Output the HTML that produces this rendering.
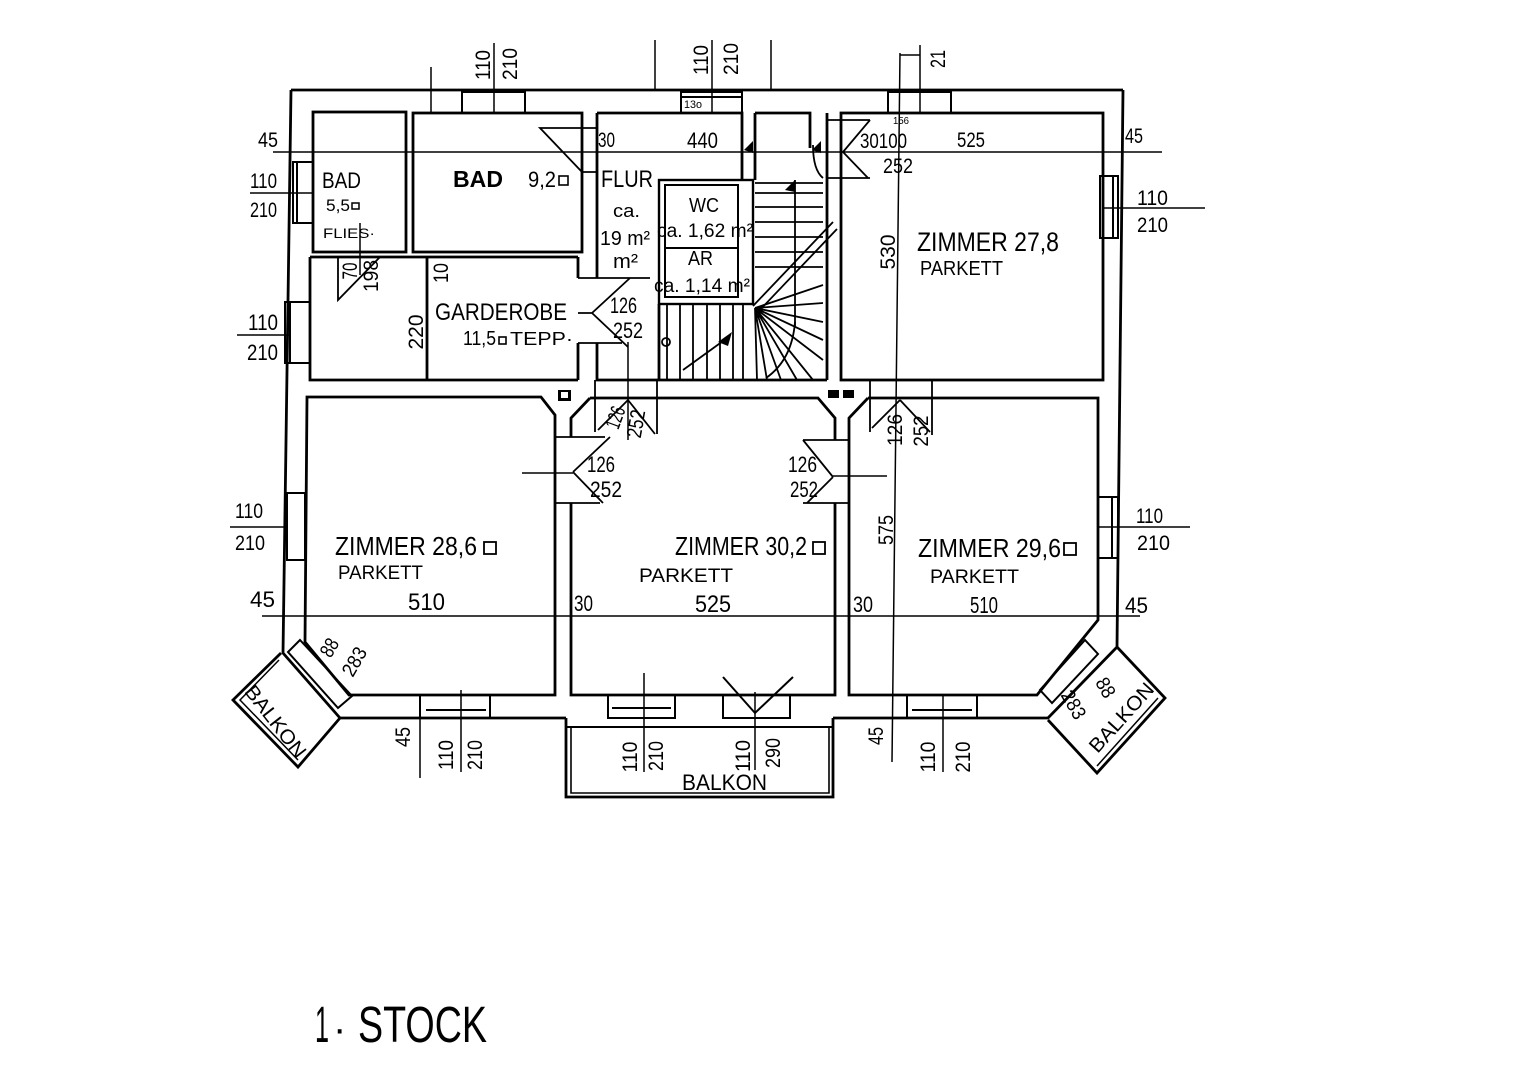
<!DOCTYPE html>
<html><head><meta charset="utf-8">
<style>
html,body{margin:0;padding:0;background:#fff;}
svg{display:block}
text{font-family:"Liberation Sans Narrow","Liberation Sans",sans-serif;fill:#000}
.a{font-family:"Liberation Sans",sans-serif}
</style></head><body>
<svg width="1527" height="1080" viewBox="0 0 1527 1080" xmlns="http://www.w3.org/2000/svg">
<rect width="1527" height="1080" fill="#fff"/>

<!-- WALLS -->
<g fill="none" stroke="#000" stroke-width="2.8" stroke-linejoin="miter">
  <!-- outer -->
  <path d="M291,90 L1123,90"/>
  <path d="M291,90 L283,653 L340,718 L566,718"/>
  <path d="M833,718 L1048,718 L1117,647 L1123,90"/>
  <!-- middle balcony -->
  <path d="M566,718 L566,797 L833,797 L833,718"/>
  <path d="M571,727 L571,793 L829,793 L829,727" stroke-width="1.6"/>
  <path d="M566,727 L833,727" stroke-width="2"/>
  <!-- left balcony -->
  <path d="M281,653 L233,700 L298,767 L340,718"/>
  <path d="M279,660 L240,700 L298,760" stroke-width="1.5"/>
  <!-- right balcony -->
  <path d="M1117,647 L1165,698 L1097,773 L1048,720"/>
  <path d="M1158,698 L1097,766" stroke-width="1.5"/>

  <!-- top rooms -->
  <rect x="313" y="112" width="93" height="140"/>
  <rect x="413" y="113" width="169" height="139"/>
  <path d="M310,257 L578,257 M310,257 L310,380 L578,380 M427,257 L427,380"/>
  <path d="M578,257 L578,278 M578,343 L578,380"/>
  <path d="M597,113 L597,278 M597,343 L597,380 L827,380"/>
  <path d="M597,113 L742,113 L742,180 M755,113 L810,113 L810,148"/>
  <path d="M827,113 L827,380"/>
  <path d="M755,113 L755,180"/>
  <!-- WC / AR -->
  <rect x="659" y="180" width="94" height="124" stroke-width="2.4"/>
  <rect x="665" y="185" width="73" height="112" stroke-width="2"/>
  <path d="M665,248 L738,248" stroke-width="2"/>
  <path d="M659,304 L659,380"/>
  <!-- zimmer 27.8 -->
  <rect x="841" y="113" width="262" height="267"/>

  <!-- bottom rooms -->
  <path d="M307,397 L541,397 L555,415 L555,695 L349,695 L305,642 L307,397 Z"/>
  <path d="M590,398 L818,398 L835,418 L835,440 M835,503 L835,695 L571,695 L571,503 M571,437 L571,418 L590,398"/>
  <path d="M868,398 L1098,398 L1098,620 L1037,695 L849,695 L849,418 L868,398"/>
</g>

<!-- STAIRS & DETAILS -->
<g fill="none" stroke="#000" stroke-width="1.8">
  <path d="M755,183 L823,183 M755,193 L823,193 M755,207 L823,207 M755,222 L823,222 M755,237 L823,237 M755,252 L823,252 M755,267 L823,267"/>
  <path d="M795,180 L795,327"/>
  <path d="M755,308 L823,285 M755,308 L823,303 M755,308 L823,322 M755,308 L823,340 M755,308 L823,360 M755,308 L813,380 M755,308 L797,380 M755,308 L781,380 M755,308 L767,380 M755,308 L757,380"/>
  <path d="M795,322 Q792,360 766,378"/>
  <path d="M753,306 L833,222 M757,313 L837,229"/>
  <path d="M667,304 L667,380 M680,304 L680,380 M693,304 L693,380 M707,304 L707,380 M720,304 L720,380 M733,304 L733,380 M743,304 L743,380"/>
  <path d="M683,370 L730,336"/>
  <circle cx="666" cy="342" r="4"/>
  <path d="M813,145 Q813,170 823,178"/>
</g>
<g fill="#000">
  <polygon points="718,342 732,332 728,346"/>
  <polygon points="744,150 753,141 753,153"/>
  <polygon points="812,150 821,141 821,153"/>
  <polygon points="785,190 795,180 795,192"/>
  <rect x="558" y="390" width="13" height="11" />
  <rect x="828" y="390" width="11" height="8" />
  <rect x="843" y="390" width="11" height="8" />
</g>
<rect x="561" y="392" width="7" height="6" fill="#fff"/>

<!-- DOOR SWINGS -->
<g fill="none" stroke="#000" stroke-width="1.8">
  <!-- bad large door -->
  <path d="M540,128 L582,128 L582,172 Z M582,128 L597,128 M582,172 L597,172"/>
  <!-- lower-left room door -->
  <path d="M338,257 L338,300 L380,257"/>
  <!-- garderobe door -->
  <path d="M578,278 L650,278 M578,343 L622,343 M592,313 L630,278 M592,313 L628,347 M578,313 L592,313"/>
  <!-- zimmer 27.8 door -->
  <path d="M827,120 L870,120 M827,178 L870,178 M843,152 L870,120 M843,152 L868,178"/>
  <!-- middle top door -->
  <path d="M595,380 L595,432 M657,380 L657,434 M628,400 L598,430 M628,400 L655,434"/>
  <!-- right top door -->
  <path d="M870,380 L870,432 M932,380 L932,435 M900,400 L872,428 M900,400 L930,432 M870,398 L932,398"/>
  <!-- middle room left door -->
  <path d="M555,437 L605,437 M555,503 L600,503 M573,472 L610,437 M573,472 L603,503"/>
  <!-- middle room right door -->
  <path d="M803,440 L849,440 M803,503 L849,503 M833,477 L803,440 M833,477 L807,503"/>
</g>

<!-- WINDOWS -->
<g fill="none" stroke="#000" stroke-width="2">
  <rect x="462" y="92" width="63" height="21"/>
  <rect x="681" y="92" width="61" height="21"/><path d="M681,97 L742,97"/>
  <rect x="888" y="92" width="63" height="21"/>
  <rect x="293" y="162" width="20" height="61"/><path d="M297,162 L297,223"/>
  <rect x="285" y="302" width="25" height="61"/><path d="M290,302 L290,363"/>
  <rect x="287" y="493" width="18" height="67"/>
  <rect x="1100" y="176" width="18" height="62"/><path d="M1113,176 L1113,238"/>
  <rect x="1098" y="497" width="20" height="61"/><path d="M1112,497 L1112,558"/>
  <rect x="420" y="695" width="70" height="23"/><path d="M426,710 L486,710"/>
  <rect x="608" y="695" width="67" height="23"/><path d="M612,708 L671,708"/>
  <rect x="723" y="695" width="67" height="23"/>
  <path d="M723,677 L755,713 L793,677"/>
  <rect x="907" y="695" width="70" height="23"/><path d="M912,710 L972,710"/>
  <polygon points="300,640 352,696 338,708 288,652"/>
  <polygon points="1085,640 1098,654 1052,703 1040,690"/>
</g>

<!-- DIMENSION LINES -->
<g fill="none" stroke="#000" stroke-width="1.5">
  <path d="M273,152 L1162,152"/>
  <path d="M262,616 L1140,616"/>
  <path d="M250,193 L313,193"/>
  <path d="M237,335 L290,335"/>
  <path d="M230,527 L287,527"/>
  <path d="M1103,208 L1205,208"/>
  <path d="M1098,527 L1190,527"/>
  <path d="M431,67 L431,113"/>
  <path d="M494,43 L494,113"/>
  <path d="M655,40 L655,90"/>
  <path d="M712,40 L712,113"/>
  <path d="M771,40 L771,90"/>
  <path d="M900,53 L892,762"/>
  <path d="M920,45 L920,113 M900,55 L920,55"/>
  <path d="M420,695 L420,778"/>
  <path d="M461,690 L461,772"/>
  <path d="M644,673 L644,772"/>
  <path d="M755,692 L755,770"/>
  <path d="M943,695 L943,772"/>
  <path d="M522,473 L573,473"/>
  <path d="M833,476 L887,476"/>
  <path d="M628,342 L628,440"/>
  <path d="M360,223 L360,275"/>
</g>

<!-- TEXT -->
<g>
  <text x="322" y="188" font-size="22" textLength="39" lengthAdjust="spacingAndGlyphs">BAD</text>
  <text x="326" y="211" font-size="17" textLength="24" lengthAdjust="spacingAndGlyphs">5,5</text>
  <rect x="352" y="203" width="7" height="6" fill="none" stroke="#000" stroke-width="1.5"/>
  <text x="323" y="238" font-size="14" textLength="52" lengthAdjust="spacingAndGlyphs">FLIES·</text>
  <text class="a" x="453" y="187" font-size="23" font-weight="bold" textLength="50" lengthAdjust="spacingAndGlyphs">BAD</text>
  <text x="528" y="187" font-size="22" textLength="28" lengthAdjust="spacingAndGlyphs">9,2</text>
  <rect x="559" y="176" width="9" height="9" fill="none" stroke="#000" stroke-width="1.6"/>
  <text x="601" y="187" font-size="24" textLength="52" lengthAdjust="spacingAndGlyphs">FLUR</text>
  <text class="a" x="613" y="217" font-size="18" textLength="27" lengthAdjust="spacingAndGlyphs">ca.</text>
  <text class="a" x="600" y="245" font-size="20" textLength="50" lengthAdjust="spacingAndGlyphs">19 m²</text>
  <text class="a" x="613" y="268" font-size="20" textLength="25" lengthAdjust="spacingAndGlyphs">m²</text>
  <text class="a" x="689" y="212" font-size="20" textLength="30" lengthAdjust="spacingAndGlyphs">WC</text>
  <text class="a" x="657" y="237" font-size="19" textLength="96" lengthAdjust="spacingAndGlyphs">ca. 1,62 m²</text>
  <text class="a" x="688" y="265" font-size="20" textLength="25" lengthAdjust="spacingAndGlyphs">AR</text>
  <text class="a" x="654" y="292" font-size="19" textLength="96" lengthAdjust="spacingAndGlyphs">ca. 1,14 m²</text>
  <text x="435" y="320" font-size="24" textLength="132" lengthAdjust="spacingAndGlyphs">GARDEROBE</text>
  <text x="463" y="345" font-size="20" textLength="33" lengthAdjust="spacingAndGlyphs">11,5</text>
  <rect x="499" y="337" width="7" height="7" fill="none" stroke="#000" stroke-width="1.6"/>
  <text x="510" y="345" font-size="18" textLength="63" lengthAdjust="spacingAndGlyphs">TEPP·</text>
  <text x="610" y="313" font-size="22" textLength="27" lengthAdjust="spacingAndGlyphs">126</text>
  <text x="613" y="338" font-size="22" textLength="30" lengthAdjust="spacingAndGlyphs">252</text>

  <text x="917" y="251" font-size="27" textLength="142" lengthAdjust="spacingAndGlyphs">ZIMMER  27,8</text>
  <text x="920" y="275" font-size="20" textLength="83" lengthAdjust="spacingAndGlyphs">PARKETT</text>

  <text x="258" y="147" font-size="21" textLength="20" lengthAdjust="spacingAndGlyphs">45</text>
  <text x="250" y="188" font-size="21" textLength="27" lengthAdjust="spacingAndGlyphs">110</text>
  <text x="250" y="217" font-size="21" textLength="27" lengthAdjust="spacingAndGlyphs">210</text>
  <text x="248" y="330" font-size="22" textLength="30" lengthAdjust="spacingAndGlyphs">110</text>
  <text x="247" y="360" font-size="22" textLength="31" lengthAdjust="spacingAndGlyphs">210</text>
  <text x="598" y="147" font-size="21" textLength="17" lengthAdjust="spacingAndGlyphs">30</text>
  <text x="687" y="148" font-size="22" textLength="31" lengthAdjust="spacingAndGlyphs">440</text>
  <text x="860" y="148" font-size="21" textLength="47" lengthAdjust="spacingAndGlyphs">30100</text>
  <text x="883" y="173" font-size="21" textLength="30" lengthAdjust="spacingAndGlyphs">252</text>
  <text x="957" y="147" font-size="21" textLength="28" lengthAdjust="spacingAndGlyphs">525</text>
  <text x="1125" y="143" font-size="21" textLength="18" lengthAdjust="spacingAndGlyphs">45</text>
  <text x="1137" y="205" font-size="21" textLength="31" lengthAdjust="spacingAndGlyphs">110</text>
  <text x="1137" y="232" font-size="21" textLength="31" lengthAdjust="spacingAndGlyphs">210</text>
  <text x="684" y="108" font-size="11" textLength="18" lengthAdjust="spacingAndGlyphs">13o</text>
  <text x="893" y="124" font-size="10" textLength="16" lengthAdjust="spacingAndGlyphs">156</text>

  <text x="235" y="518" font-size="21" textLength="28" lengthAdjust="spacingAndGlyphs">110</text>
  <text x="235" y="550" font-size="21" textLength="30" lengthAdjust="spacingAndGlyphs">210</text>
  <text x="250" y="607" font-size="22" textLength="25" lengthAdjust="spacingAndGlyphs">45</text>
  <text x="335" y="555" font-size="26" textLength="142" lengthAdjust="spacingAndGlyphs">ZIMMER  28,6</text>
  <rect x="484" y="542" width="12" height="12" fill="none" stroke="#000" stroke-width="1.8"/>
  <text x="338" y="579" font-size="19" textLength="85" lengthAdjust="spacingAndGlyphs">PARKETT</text>
  <text x="408" y="610" font-size="24" textLength="37" lengthAdjust="spacingAndGlyphs">510</text>
  <text x="574" y="611" font-size="22" textLength="19" lengthAdjust="spacingAndGlyphs">30</text>
  <text x="587" y="472" font-size="22" textLength="28" lengthAdjust="spacingAndGlyphs">126</text>
  <text x="590" y="497" font-size="22" textLength="32" lengthAdjust="spacingAndGlyphs">252</text>
  <text x="788" y="472" font-size="22" textLength="29" lengthAdjust="spacingAndGlyphs">126</text>
  <text x="790" y="497" font-size="22" textLength="28" lengthAdjust="spacingAndGlyphs">252</text>
  <text x="675" y="555" font-size="26" textLength="132" lengthAdjust="spacingAndGlyphs">ZIMMER 30,2</text>
  <rect x="813" y="542" width="12" height="12" fill="none" stroke="#000" stroke-width="1.8"/>
  <text x="639" y="582" font-size="19" textLength="94" lengthAdjust="spacingAndGlyphs">PARKETT</text>
  <text x="695" y="612" font-size="24" textLength="36" lengthAdjust="spacingAndGlyphs">525</text>
  <text x="853" y="612" font-size="22" textLength="20" lengthAdjust="spacingAndGlyphs">30</text>
  <text x="918" y="557" font-size="26" textLength="143" lengthAdjust="spacingAndGlyphs">ZIMMER  29,6</text>
  <rect x="1064" y="543" width="12" height="12" fill="none" stroke="#000" stroke-width="1.8"/>
  <text x="930" y="583" font-size="19" textLength="89" lengthAdjust="spacingAndGlyphs">PARKETT</text>
  <text x="970" y="613" font-size="23" textLength="28" lengthAdjust="spacingAndGlyphs">510</text>
  <text x="1125" y="613" font-size="22" textLength="23" lengthAdjust="spacingAndGlyphs">45</text>
  <text x="1136" y="523" font-size="21" textLength="27" lengthAdjust="spacingAndGlyphs">110</text>
  <text x="1137" y="550" font-size="21" textLength="33" lengthAdjust="spacingAndGlyphs">210</text>
  <text x="682" y="790" font-size="22" textLength="85" lengthAdjust="spacingAndGlyphs">BALKON</text>

  <!-- rotated -90 labels -->
  <g font-size="21" text-anchor="middle">
    <text transform="translate(490,65) rotate(-90)" textLength="30" lengthAdjust="spacingAndGlyphs">110</text>
    <text transform="translate(517,64) rotate(-90)" textLength="32" lengthAdjust="spacingAndGlyphs">210</text>
    <text transform="translate(708,60) rotate(-90)" textLength="30" lengthAdjust="spacingAndGlyphs">110</text>
    <text transform="translate(738,59) rotate(-90)" textLength="32" lengthAdjust="spacingAndGlyphs">210</text>
    <text transform="translate(945,59) rotate(-90)" textLength="18" lengthAdjust="spacingAndGlyphs">21</text>
    <text transform="translate(423,332) rotate(-90)" textLength="35" lengthAdjust="spacingAndGlyphs">220</text>
    <text transform="translate(448,273) rotate(-90)" textLength="20" lengthAdjust="spacingAndGlyphs">10</text>
    <text transform="translate(357,271) rotate(-90)" textLength="17" lengthAdjust="spacingAndGlyphs">70</text>
    <text transform="translate(378,276) rotate(-90)" textLength="32" lengthAdjust="spacingAndGlyphs">198</text>
    <text transform="translate(895,252) rotate(-90)" textLength="35" lengthAdjust="spacingAndGlyphs">530</text>
    <text transform="translate(893,530) rotate(-90)" textLength="30" lengthAdjust="spacingAndGlyphs">575</text>
    <text transform="translate(410,737) rotate(-90)" textLength="20" lengthAdjust="spacingAndGlyphs">45</text>
    <text transform="translate(453,755) rotate(-90)" textLength="30" lengthAdjust="spacingAndGlyphs">110</text>
    <text transform="translate(482,755) rotate(-90)" textLength="30" lengthAdjust="spacingAndGlyphs">210</text>
    <text transform="translate(637,757) rotate(-90)" textLength="31" lengthAdjust="spacingAndGlyphs">110</text>
    <text transform="translate(663,756) rotate(-90)" textLength="30" lengthAdjust="spacingAndGlyphs">210</text>
    <text transform="translate(750,756) rotate(-90)" textLength="32" lengthAdjust="spacingAndGlyphs">110</text>
    <text transform="translate(780,753) rotate(-90)" textLength="30" lengthAdjust="spacingAndGlyphs">290</text>
    <text transform="translate(883,736) rotate(-90)" textLength="18" lengthAdjust="spacingAndGlyphs">45</text>
    <text transform="translate(935,757) rotate(-90)" textLength="31" lengthAdjust="spacingAndGlyphs">110</text>
    <text transform="translate(970,757) rotate(-90)" textLength="31" lengthAdjust="spacingAndGlyphs">210</text>
    <text transform="translate(902,430) rotate(-90)" textLength="32" lengthAdjust="spacingAndGlyphs">126</text>
    <text transform="translate(928,431) rotate(-90)" textLength="31" lengthAdjust="spacingAndGlyphs">252</text>
    <text transform="translate(622,420) rotate(-70)" textLength="22" lengthAdjust="spacingAndGlyphs">126</text>
    <text transform="translate(643,425) rotate(-80)" textLength="28" lengthAdjust="spacingAndGlyphs">252</text>
  </g>
  <!-- balcony labels -->
  <g font-size="20" text-anchor="middle" dominant-baseline="central">
    <text transform="translate(275,722) rotate(52)" textLength="86" lengthAdjust="spacingAndGlyphs">BALKON</text>
    <text transform="translate(330,648) rotate(-60)" textLength="18" lengthAdjust="spacingAndGlyphs">88</text>
    <text transform="translate(355,662) rotate(-60)" textLength="30" lengthAdjust="spacingAndGlyphs">283</text>
    <text transform="translate(1122,718) rotate(-48)" textLength="86" lengthAdjust="spacingAndGlyphs">BALKON</text>
    <text transform="translate(1105,688) rotate(60)" textLength="20" lengthAdjust="spacingAndGlyphs">88</text>
    <text transform="translate(1073,705) rotate(60)" textLength="30" lengthAdjust="spacingAndGlyphs">283</text>
  </g>

  <!-- title -->
  <text x="315" y="1042" font-size="51" textLength="14" lengthAdjust="spacingAndGlyphs">1</text>
  <text x="333" y="1042" font-size="40">·</text>
  <text x="358" y="1042" font-size="51" textLength="129" lengthAdjust="spacingAndGlyphs">STOCK</text>
</g>
</svg>
</body></html>
